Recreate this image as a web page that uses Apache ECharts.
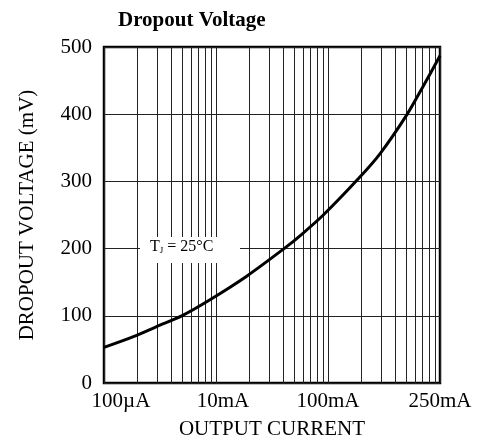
<!DOCTYPE html>
<html>
<head>
<meta charset="utf-8">
<script src="https://cdn.jsdelivr.net/npm/echarts@6/dist/echarts.min.js"></script>
<style>html,body{margin:0;padding:0;background:#fff;}#c{width:490px;height:445px;}</style>
</head>
<body>
<div id="c"></div>
<script>
// x positions in units of the log scale (1 decade per major grid line)
var tickValues = [1, 10, 100, 1000];
var tickLabels = ['100µA', '10mA', '100mA', '250mA'];
var minorMultipliers = [2, 3, 4, 5, 6, 7, 8, 9];
var decadeStarts = [1, 10, 100];
// dropout voltage curve (mV) at Tj = 25°C
var currentX = [1, 1.83, 2.95, 4.94, 8.84, 18.8, 41.3, 56.2, 90.8, 189, 291, 505, 710, 1000];
var dropoutMv = [53, 69, 84, 100, 124, 159, 201, 219, 250, 305, 341, 399, 442, 487];
var yTicks = [0, 100, 200, 300, 400, 500];

var FONT = "'Liberation Serif','Times New Roman',serif";

var minorLines = [];
decadeStarts.forEach(function (d) {
  minorMultipliers.forEach(function (m) { minorLines.push({ xAxis: d * m }); });
});

var chart = echarts.init(document.getElementById('c'), null, { renderer: 'canvas' });
chart.setOption({
  animation: false,
  backgroundColor: '#fff',
  title: {
    text: 'Dropout Voltage',
    left: 113, top: 5,
    textStyle: { fontFamily: FONT, fontSize: 21, fontWeight: 'bold', color: '#000' }
  },
  grid: {
    left: 104, right: 50, top: 47, bottom: 62,
    show: true, borderColor: '#000', borderWidth: 2.5, backgroundColor: 'transparent'
  },
  xAxis: {
    type: 'log', logBase: 10, min: tickValues[0], max: tickValues[tickValues.length - 1],
    name: 'OUTPUT CURRENT', nameLocation: 'middle', nameGap: 36,
    nameTextStyle: { fontFamily: FONT, fontSize: 21, color: '#000' },
    axisLine: { show: false }, axisTick: { show: false },
    splitLine: { show: true, lineStyle: { color: '#222', width: 1 } },
    axisLabel: {
      margin: 8, color: '#000', fontFamily: FONT, fontSize: 21,
      formatter: function (v) {
        var i = Math.round(Math.log10(v));
        var t = tickLabels[i];
        if (t === undefined) return '';
        if (i === 0) return '{a|' + t + '}';
        if (i === 1) return '{b|' + t + '}';
        return t;
      },
      rich: {
        a: { fontFamily: FONT, fontSize: 21, color: '#000', padding: [0, 0, 0, 34] },
        b: { fontFamily: FONT, fontSize: 21, color: '#000', padding: [0, 0, 0, 14] }
      }
    }
  },
  yAxis: {
    type: 'value', min: yTicks[0], max: yTicks[yTicks.length - 1], interval: 100,
    name: 'DROPOUT VOLTAGE (mV)', nameLocation: 'middle', nameGap: 66,
    nameTextStyle: { fontFamily: FONT, fontSize: 21, color: '#000' },
    axisLine: { show: false }, axisTick: { show: false },
    splitLine: { show: true, lineStyle: { color: '#222', width: 1 } },
    axisLabel: { margin: 12, color: '#000', fontFamily: FONT, fontSize: 21 }
  },
  graphic: [
    { type: 'rect', z: 50, shape: { x: 140, y: 237, width: 100, height: 26 }, style: { fill: '#fff' } },
    {
      type: 'text', z: 51, left: 150, top: 239,
      style: {
        text: 'T{s|J} = 25°C',
        font: "16px 'Liberation Serif','Times New Roman',serif",
        fill: '#000',
        rich: { s: { fontSize: 9, fontFamily: FONT, fill: '#000', padding: [8, 0, 0, 0] } }
      }
    }
  ],
  series: [{
    type: 'line',
    data: currentX.map(function (x, i) { return [x, dropoutMv[i]]; }),
    smooth: 0.3, showSymbol: false, symbol: 'none',
    lineStyle: { color: '#000', width: 3 },
    z: 10,
    markLine: {
      silent: true, symbol: ['none', 'none'], animation: false,
      label: { show: false },
      lineStyle: { color: '#222', width: 1, type: 'solid' },
      data: minorLines
    }
  }]
});
</script>
</body>
</html>
